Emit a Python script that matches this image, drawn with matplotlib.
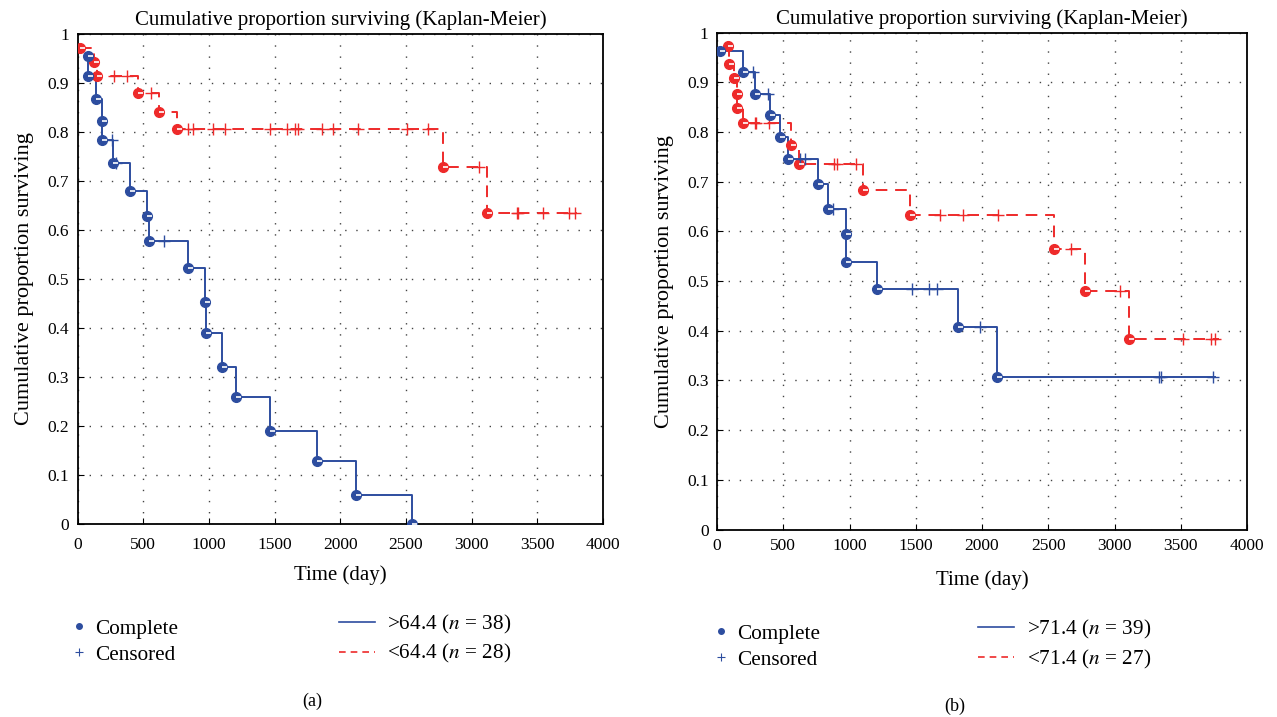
import numpy as np
import matplotlib.pyplot as plt
from matplotlib.lines import Line2D

plt.rcParams['font.family'] = ['Liberation Serif', 'DejaVu Serif']
plt.rcParams['mathtext.fontset'] = 'stix'

BLUE = '#2d4d9f'
RED = '#ee2a2a'

# panel (a): age split at 64.4
a_hi_t = [78, 78, 142, 187, 187, 272, 399, 526, 543, 838, 968, 975, 1100, 1207, 1466, 1824, 2118, 2547]
a_hi_s = [0.955, 0.914, 0.867, 0.822, 0.784, 0.737, 0.680, 0.629, 0.578, 0.522, 0.453, 0.390,
          0.320, 0.259, 0.190, 0.129, 0.059, 0.0]
a_hi_cens = [262, 292, 658]
a_hi_end = 2547

a_lo_t = [18, 125, 148, 460, 620, 758, 2783, 3119]
a_lo_s = [0.971, 0.943, 0.914, 0.880, 0.841, 0.806, 0.728, 0.635]
a_lo_cens = [277, 376, 559, 840, 878, 1031, 1122, 1465, 1595, 1656, 1679, 1862, 1946, 2136,
             2509, 2669, 3058, 3346, 3354, 3546, 3744, 3790]
a_lo_end = 3800

# panel (b): split at 71.4
b_hi_t = [23, 194, 287, 400, 472, 535, 762, 837, 970, 975, 1204, 1817, 2113]
b_hi_s = [0.962, 0.921, 0.876, 0.835, 0.790, 0.745, 0.696, 0.644, 0.594, 0.538, 0.485, 0.407, 0.306]
b_hi_cens = [275, 385, 626, 664, 875, 1468, 1598, 1657, 1983, 3335, 3348, 3740]
b_hi_end = 3755

b_lo_t = [83, 88, 131, 151, 151, 194, 556, 618, 1100, 1455, 2540, 2775, 3113]
b_lo_s = [0.973, 0.937, 0.909, 0.876, 0.848, 0.819, 0.774, 0.735, 0.684, 0.632, 0.565, 0.481, 0.384]
b_lo_cens = [284, 294, 390, 880, 905, 1050, 1681, 1857, 2121, 2674, 3038, 3516, 3730, 3755]
b_lo_end = 3792

labels_a = ['>64.4 ($n$ = 38)', '<64.4 ($n$ = 28)']
labels_b = ['>71.4 ($n$ = 39)', '<71.4 ($n$ = 27)']


def km_curve(ax, t, s, cens, end, color, ls):
    x = list(t) + [end]
    y = list(s) + [s[-1]]
    ax.step(x, y, where='post', color=color, linewidth=1.4, linestyle=ls, zorder=3)
    ax.plot(t, s, 'o', color=color, markersize=7, zorder=4)
    ax.plot(t, s, linestyle='none', marker=1, color='white', markersize=3.5, mew=1.2, zorder=5)
    # censored marks sit on the curve
    idx = np.searchsorted(t, cens, side='right') - 1
    cy = [s[i] for i in idx]
    ax.plot(cens, cy, '+', color=color, markersize=9, mew=1.0, zorder=4)


def setup(ax, tickpad, xlabpad):
    ax.set_xlim(0, 4000)
    ax.set_ylim(0, 1)
    ax.set_xticks(np.arange(0, 4001, 500))
    ax.set_yticks(np.arange(0, 1.01, 0.1))
    ax.set_yticklabels(['0'] + ['%.1f' % v for v in np.arange(0.1, 0.95, 0.1)] + ['1'])
    ax.grid(True, color='#444444', linestyle=(0, (1, 7)), linewidth=1.0)
    ax.tick_params(direction='in', labelsize=12.5, length=4, pad=6)
    ax.tick_params(axis='x', pad=tickpad)
    for sp in ax.spines.values():
        sp.set_linewidth(1.3)
    ax.set_title('Cumulative proportion surviving (Kaplan-Meier)', fontsize=15, pad=6)
    ax.set_xlabel('Time (day)', fontsize=15, labelpad=xlabpad)
    ax.set_ylabel('Cumulative proportion surviving', fontsize=16, labelpad=9.5)


fig = plt.figure(figsize=(12.77, 7.17), dpi=100)
axa = fig.add_axes([0.0608, 0.2692, 0.4114, 0.6838])
axb = fig.add_axes([0.5615, 0.2614, 0.4150, 0.6932])

panels = [
    (axa, (a_hi_t, a_hi_s, a_hi_cens, a_hi_end), (a_lo_t, a_lo_s, a_lo_cens, a_lo_end), labels_a,
     9.6, 8.3, -0.014, 0.152, 0.1598),
    (axb, (b_hi_t, b_hi_s, b_hi_cens, b_hi_end), (b_lo_t, b_lo_s, b_lo_cens, b_lo_end), labels_b,
     6, 12, -0.012, 0.145, 0.1528),
]

for ax, hi, lo, labs, tpad, xpad, lx, ly1, ly2 in panels:
    setup(ax, tpad, xpad)
    km_curve(ax, *lo, RED, (0, (6, 4)))
    km_curve(ax, *hi, BLUE, '-')

    h_mark = [Line2D([], [], linestyle='none', marker='o', color=BLUE, markersize=4),
              Line2D([], [], linestyle='none', marker='+', color=BLUE, markersize=6, mew=0.8)]
    h_line = [Line2D([], [], color=BLUE, linewidth=1.2),
              Line2D([], [], color=RED, linewidth=1.2, linestyle=(0, (4, 3)))]
    bb = ax.get_position()
    leg1 = ax.legend(h_mark, ['Complete', 'Censored'], loc='upper left',
                     bbox_to_anchor=(bb.x0 + lx, ly1), bbox_transform=fig.transFigure,
                     frameon=False, fontsize=15.3, handlelength=0.8, handletextpad=0.36,
                     labelspacing=0.3, borderpad=0)
    ax.add_artist(leg1)
    ax.legend(h_line, labs, loc='upper left',
              bbox_to_anchor=(bb.x0 + 0.196, ly2), bbox_transform=fig.transFigure,
              frameon=False, fontsize=15.3, handlelength=1.7, handletextpad=0.6,
              labelspacing=0.3, borderpad=0)

fig.text(0.2443, 0.0155, '(a)', ha='center', fontsize=13)
fig.text(0.748, 0.009, '(b)', ha='center', fontsize=13)

fig.savefig('out.png', dpi=100)
